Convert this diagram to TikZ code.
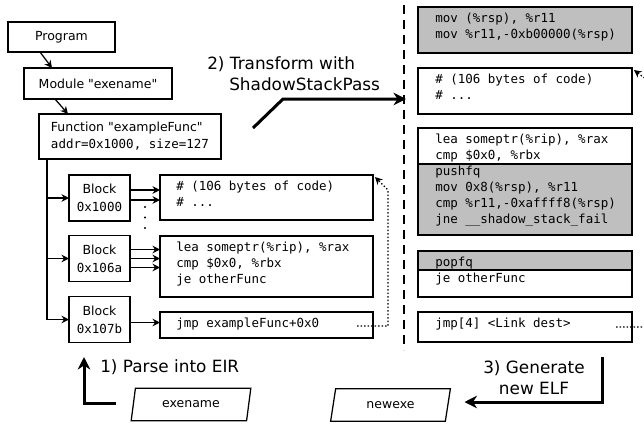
\documentclass[tikz,border=0pt]{standalone}
\usepackage{fontspec}
\setmainfont{DejaVu Sans}[Ligatures=TeXOff]
\setmonofont{DejaVu Sans Mono}
\usetikzlibrary{arrows.meta,calc,shapes.geometric}
\newcommand{\codesize}{\fontsize{10}{12.8}\selectfont\ttfamily}
\newcommand{\labelsize}{\fontsize{13.5}{16.8}\selectfont}

\begin{document}
\begin{tikzpicture}[x=0.8pt,y=-0.8pt,
  box/.style={draw,line width=1pt,inner sep=0pt,outer sep=0pt},
  graybox/.style={box,fill=gray!50},
  lbox/.style={box,anchor=north west,minimum width=170.4pt},
  rbox/.style={box,anchor=north west,minimum width=171.2pt},
  blk/.style={box,minimum width=48.8pt,minimum height=36.8pt,align=center,font=\fontsize{10}{14.4}\selectfont},
  code/.style={anchor=north west,inner sep=0pt,align=left,font=\codesize},
  arr/.style={line width=1pt,-{Stealth[length=6pt,width=6pt]}},
  bigarr/.style={line width=2.4pt,-{Stealth[length=10pt,width=10pt]}},
  link/.style={line width=1pt,dash pattern=on 1.2pt off 1.6pt,-{Stealth[length=6pt,width=6pt]}},
  file/.style={draw,line width=1pt,trapezium,trapezium stretches=true,trapezium left angle=73,trapezium right angle=107,minimum height=26pt,minimum width=96pt,inner sep=0pt}]
\useasboundingbox (0,0) rectangle (644,423);
\clip (0,0) rectangle (644,423);

% program, module, function
\node[box,minimum width=85.6pt,minimum height=24pt] (prog) at (61.5,37) {Program};
\node[box,minimum width=118.4pt,minimum height=24.8pt] (mod) at (98,83.5) {Module "exename"};
\node[box,minimum width=145.6pt,minimum height=36pt,align=left,font=\fontsize{10}{13.6}\selectfont] (func) at (130,136.5) {Function "exampleFunc"\\{\ttfamily addr=0x1000, size=127}};

% blocks
\node[blk] (b1) at (99.5,198) {Block\\\texttt{0x1000}};
\node[blk] (b2) at (99.5,258.5) {Block\\\texttt{0x106a}};
\node[blk] (b3) at (99.5,319.5) {Block\\\texttt{0x107b}};

% code of the blocks
\node[lbox,minimum height=36pt] (c1) at (160,175) {};
\node[lbox,minimum height=48.8pt] (c2) at (160,236) {};
\node[lbox,minimum height=20.8pt] (c3) at (160,312) {};
\node[code] (c1t) at ($(c1.north west)+(16,4)$) {\strut\# (106 bytes of code)\\\# ...};
\node[code] (c2t) at ($(c2.north west)+(16,4)$) {\strut lea someptr(\%rip), \%rax\\cmp \$0x0, \%rbx\\je otherFunc};
\node[code] (c3t) at ($(c3.north west)+(16,4)$) {\strut jmp exampleFunc+0x0};

% rewritten code
\node[rbox,graybox,minimum height=36.8pt] (r1) at (418,7) {};
\node[rbox,minimum height=36.8pt] (r2) at (418,68) {};
\node[rbox,minimum height=28.8pt] (r3) at (418,128) {};
\node[rbox,graybox,minimum height=56.8pt] (r3g) at (r3.south west) {};
\node[rbox,graybox,minimum height=15.2pt] (r4g) at (418,251) {};
\node[rbox,minimum height=21.6pt] (r4) at (r4g.south west) {};
\node[rbox,minimum height=24pt] (r5) at (418,312) {};
\node[code] (r1t) at ($(r1.north west)+(17,4)$) {\strut mov (\%rsp), \%r11\\mov \%r11,-0xb00000(\%rsp)};
\node[code] (r2t) at ($(r2.north west)+(17,4)$) {\strut\# (106 bytes of code)\\\# ...};
\node[code] (r3t) at ($(r3.north west)+(17,4)$) {\strut lea someptr(\%rip), \%rax\\cmp \$0x0, \%rbx\\pushfq\\mov 0x8(\%rsp), \%r11\\cmp \%r11,-0xaffff8(\%rsp)\\jne \_\_shadow\_stack\_fail};
\node[code] (r4t) at ($(r4g.north west)+(17,4)$) {\strut popfq\\je otherFunc};
\node[code] (r5t) at ($(r5.north west)+(17,4)$) {\strut jmp[4] <Link dest>};

% files
\node[file] (src) at (191,404.5) {exename};
\node[file] (dst) at (390.5,405) {newexe};

% labels
\node[anchor=west,align=left,font=\labelsize,inner sep=0pt] (tlabel) at (207,73.5) {2) Transform with\\\hspace*{17.6pt}ShadowStackPass};
\node[anchor=west,font=\labelsize,inner sep=0pt] (plabel) at (100,367) {1) Parse into EIR};
\node[align=center,font=\labelsize,inner sep=0pt] (glabel) at (534,378) {3) Generate\\new ELF};

% hierarchy arrows
\draw[arr] ($(prog.south west)+(32,0)$) -- ($(mod.north west)+(28,0)$);
\draw[arr] ($(mod.south west)+(31,0)$) -- ($(func.north west)+(29,0)$);
\coordinate (trunk) at ($(func.south west)+(8,0)$);
\foreach \b in {b1,b2,b3}
  \draw[arr] (trunk) |- (\b.west);

% successors
\foreach \dy in {15,25} {
  \coordinate (s) at ($(b1.north east)+(0,\dy)$);
  \draw[arr] (s) -- (s -| c1.west);
}
\foreach \dy in {14,23,32} {
  \coordinate (s) at ($(b2.north east)+(0,\dy)$);
  \draw[arr] (s) -- (s -| c2.west);
}
\coordinate (s3) at ($(b3.north east)+(0,26)$);
\draw[arr] (s3) -- (s3 -| c3.west);
\foreach \y in {207,217.5,228}
  \fill (145,\y) circle (0.9pt);

% jump links
\draw[link] ($(c3.east)+(-16,1)$) -- ++(31,0) -- ($(c1.north east)+(15,15)$) -- ($(c1.north east)+(2,2)$);
\draw[link] ($(r5.east)+(-16,0)$) -- ++(35,0) -- ($(r2.north east)+(19,15)$) -- ($(r2.north east)+(2,2)$);

% divider
\coordinate (dtop) at (404,5);
\coordinate (dbot) at (404,350);
\draw[line width=1pt,dash pattern=on 7.2pt off 4.8pt] (dtop) -- (dbot);

% steps
\coordinate (tfrom) at (253,128);
\coordinate (tto) at (406,99);
\draw[bigarr] (tfrom) -- ++(30,-29) -- (tto);
\coordinate (pfrom) at (116,403);
\coordinate (pto) at (84,357);
\draw[bigarr] (pfrom) -| (pto);
\coordinate (gfrom) at (602,357);
\draw[bigarr] (gfrom) |- ($(dst.east)+(16,-3)$);
\end{tikzpicture}
\end{document}
